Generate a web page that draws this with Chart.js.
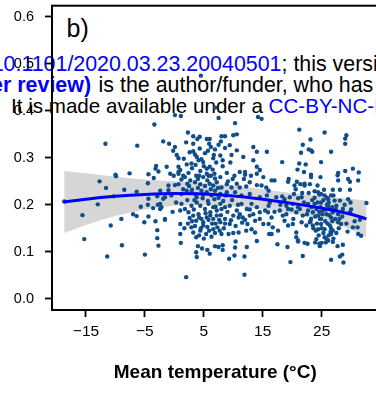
<!DOCTYPE html>
<html><head><meta charset="utf-8">
<script src="https://cdn.jsdelivr.net/npm/chart.js@4"></script>
<style>
html,body{margin:0;padding:0;background:#fff;}
#wrap{position:relative;width:376px;height:394px;overflow:hidden;font-family:"Liberation Sans",Arial,Helvetica,sans-serif;}
#c{position:absolute;left:0;top:0;z-index:2;}
.wm{position:absolute;white-space:nowrap;color:#000;z-index:1;}
.l12{font-size:21.4px;line-height:21.4px;}
.l3{font-size:20.6px;line-height:20.6px;}
.blue{color:#0000ff;}
.b{font-weight:bold;}
#tag{position:absolute;left:66.6px;top:15.5px;font-size:25px;line-height:25px;color:#000;z-index:1;white-space:nowrap;}
</style></head>
<body><div id="wrap">
<div class="wm l12" style="right:94.5px;top:53.6px">medRxiv preprint doi: <span class="blue">https://doi.org/10.1101/2020.03.23.20040501</span></div>
<div class="wm l12" style="left:281.5px;top:53.6px">; this version posted March 26, 2020. The copyright holder for this preprint</div>
<div class="wm l12 blue b" style="right:285px;top:75.4px">(which was not certified by peer review)</div>
<div class="wm l12" style="left:98.6px;top:75.4px">is the author/funder, who has granted medRxiv a license to display the preprint in perpetuity.</div>
<div class="wm l3" style="left:11px;top:96.1px">It is made available under a <span class="blue">CC-BY-NC-ND 4.0 International license</span>.</div>
<div id="tag">b)</div>
<canvas id="c" width="380" height="394"></canvas>
</div>
<script>
// Observed points: mean temperature (°C) and rate
const tempC = [
4.5,-3.4,0.1,1.1,7.5,10.3,14.2,14.8,21.2,6.9,-11.7,-6.3,-3.1,-3.2,-2.7,-7.6,-10.0,-4.4,
-1.9,-0.9,2.3,3.2,4.3,5.5,6.0,8.0,8.6,10.0,10.6,2.0,0.1,3.2,4.3,5.9,6.2,6.9,7.5,8.6,9.4,10.6,13.4,14.0,15.7,0.4,0.7,3.2,3.5,3.8,4.1,4.6,4.9,6.7,6.6,9.7,11.7,2.1,2.9,5.5,6.0,-1.3,1.0,11.1,12.0,14.5,
-0.2,0.7,0.7,1.2,-1.9,-1.0,0.1,-1.6,-4.4,13.4,14.0,19.3,
25.5,29.2,23.1,21.8,29.0,21.5,22.8,23.4,26.6,18.3,24.9,21.2,22.3,20.9,22.0,30.3,27.8,29.0,31.3,23.2,23.2,29.0,20.8,22.1,24.8,27.7,29.8,
-12.7,-9.9,-11.6,-8.5,-6.4,-3.5,-4.5,-18.7,-13.0,-10.3,-2.9,-5.7,-4.5,-3.6,-2.8,-2.4,-2.4,-15.6,-7.0,-6.4,-4.4,-9.0,-5.1,-3.2,-10.8,-2.9,-15.3,-2.9,-8.9,-2.7,-5.0,-11.4,
-0.7,-0.1,0.7,1.8,3.7,4.2,4.9,5.5,6.2,6.8,7.8,9.9,12.0,14.0,15.1,
-1.0,0.7,2.7,3.5,4.4,5.6,6.6,7.2,8.0,8.9,9.7,11.1,12.2,12.8,14.0,14.8,15.6,
-2.4,-1.6,-0.5,1.2,2.1,2.9,3.8,4.6,5.5,6.3,6.9,7.8,8.9,10.3,11.4,12.8,14.5,15.7,16.0,
-2.2,1.2,1.8,2.4,2.9,3.8,4.4,5.2,5.8,6.1,6.6,7.2,7.8,8.0,8.6,9.4,10.6,11.4,12.3,13.1,13.4,14.0,14.5,15.4,16.0,
-1.6,1.0,3.2,3.7,4.2,4.9,5.5,6.1,6.6,7.2,7.8,8.6,9.4,10.0,10.9,11.6,12.4,12.8,13.7,14.5,15.1,16.0,
1.0,2.9,3.2,3.7,4.4,4.9,5.4,5.9,6.6,7.3,8.0,9.2,10.0,10.9,12.2,13.1,13.7,16.1,
1.1,2.0,3.8,3.7,4.0,4.7,5.6,6.0,6.9,7.5,8.2,8.2,9.3,10.2,10.3,10.4,11.9,12.3,11.9,14.0,17.5,19.2,19.7,21.8,21.0,22.1,22.6,23.9,24.6,25.0,25.7,24.7,26.9,27.7,28.6,26.6,28.1,28.5,28.7,
16.5,17.0,19.4,20.4,21.4,22.1,23.0,23.2,24.3,27.8,29.5,31.2,29.8,28.1,26.9,25.4,23.8,24.4,
16.2,17.3,18.3,19.6,20.3,21.0,21.6,24.9,25.5,26.1,26.6,27.2,28.1,29.5,24.9,26.1,27.5,32.6,19.0,20.1,22.7,23.8,
15.9,16.5,17.9,18.4,19.3,20.7,21.3,21.8,22.7,23.5,24.1,24.4,25.2,25.8,26.4,26.9,27.8,28.6,29.8,23.2,24.9,26.6,31.5,
16.7,17.6,18.7,19.3,20.1,20.7,21.6,22.4,23.0,23.5,24.4,24.9,25.5,26.4,26.9,27.8,28.3,29.4,30.3,31.1,31.2,31.7,
16.5,20.7,21.0,24.1,25.5,26.1,26.6,
2.5,3.0,3.6,4.0,4.8,5.2,5.7,6.2,6.8,7.4,8.3,2.2,3.3,4.1,4.6,5.3,6.4,7.0,7.9,8.6,3.0,4.5,5.8,6.9,7.6,9.0,9.8,10.8,11.5,12.8,1.5,0.3,1.0,2.6,-0.3,
23.8,24.3,24.8,25.3,25.9,26.3,26.8,27.3,27.0,25.6,24.6,23.9,25.0,26.0,26.6,27.5,25.3,24.0,26.2,27.0,28.9,28.0,29.2,22.8,23.3,22.0,21.0,20.2,19.0,18.0,17.0,30.0,30.6,
1.5,2.4,3.0,3.6,4.4,5.0,5.8,6.5,7.1,7.8,8.2,8.9,9.5,10.2,2.6,5.2,7.9,1.6,4.0,6.9,9.1,10.6,11.8,13.0,2.2,3.9,5.7,8.2,
1.7,2.3,3.5,4.2,5.0,5.6,6.3,7.0,7.7,8.4,9.6,10.4,11.1,12.0,3.4,4.9,6.0,7.5,8.7,
22.5,23.1,23.6,24.2,24.7,25.1,25.7,26.2,26.8,27.4,27.9,24.5,25.8,26.5,23.4,24.6,25.9,28.5,29.9,19.9,18.7,21.7,20.6
];
const rate = [
.475,.371,.391,.389,.385,.374,.387,.383,.360,.407,.330,.326,.283,.277,.271,.267,.264,.265,
.335,.330,.354,.346,.345,.340,.340,.346,.346,.348,.350,.333,.323,.330,.320,.330,.323,.318,.328,.321,.327,.316,.323,.313,.313,.306,.299,.314,.307,.302,.295,.297,.291,.306,.299,.306,.302,.286,.288,.277,.281,.281,.274,.270,.270,.274,
.315,.281,.270,.254,.213,.231,.242,.168,.213,.295,.281,.249,
.354,.348,.339,.328,.330,.311,.318,.313,.313,.291,.291,.288,.286,.275,.270,.277,.268,.272,.269,.264,.316,.341,.249,.245,.259,.263,.249,
.250,.261,.236,.232,.228,.257,.246,.207,.201,.218,.218,.196,.200,.193,.200,.202,.191,.178,.180,.176,.175,.170,.163,.165,.156,.146,.127,.129,.114,.113,.094,.090,
.266,.262,.266,.259,.262,.262,.259,.266,.262,.266,.259,.255,.264,.266,.259,
.241,.244,.252,.248,.244,.252,.241,.248,.237,.244,.237,.237,.239,.248,.242,.241,.237,
.230,.216,.220,.223,.230,.227,.216,.230,.227,.220,.230,.223,.227,.227,.220,.223,.216,.220,.230,
.195,.202,.191,.184,.198,.205,.198,.191,.202,.184,.195,.188,.202,.191,.195,.198,.188,.202,.191,.202,.180,.195,.184,.188,.198,
.170,.159,.177,.166,.173,.163,.173,.177,.170,.177,.163,.170,.159,.177,.173,.173,.159,.177,.166,.170,.159,.159,
.138,.152,.141,.131,.145,.156,.138,.145,.148,.152,.138,.138,.140,.141,.145,.148,.141,.138,
.119,.046,.089,.099,.112,.107,.104,.096,.112,.110,.114,.104,.085,.092,.109,.122,.090,.110,.051,.123,.116,.110,.078,.091,.122,.119,.117,.120,.117,.119,.120,.112,.121,.112,.115,.083,.090,.094,.077,
.252,.252,.255,.241,.244,.241,.244,.259,.241,.252,.255,.252,.232,.232,.232,.232,.229,.227,
.205,.216,.218,.216,.223,.214,.216,.223,.220,.212,.220,.209,.209,.212,.205,.198,.198,.204,.198,.202,.202,.202,
.184,.173,.188,.177,.191,.184,.191,.177,.188,.184,.191,.177,.188,.180,.191,.184,.180,.191,.184,.170,.170,.173,.168,
.152,.145,.166,.156,.159,.141,.163,.156,.163,.156,.148,.159,.148,.156,.145,.163,.159,.143,.152,.152,.138,.134,
.138,.131,.124,.127,.131,.124,.138,
.240,.232,.222,.236,.214,.240,.208,.233,.212,.236,.208,.210,.190,.180,.170,.182,.160,.196,.178,.160,.165,.150,.168,.140,.168,.185,.210,.200,.162,.190,.233,.205,.188,.172,.185,
.215,.205,.195,.210,.200,.178,.195,.170,.220,.165,.185,.175,.150,.160,.150,.140,.140,.145,.135,.128,.200,.170,.160,.225,.195,.205,.195,.170,.180,.200,.185,.190,.165,
.262,.268,.278,.285,.272,.282,.262,.275,.290,.305,.282,.268,.290,.262,.312,.310,.335,.298,.255,.256,.250,.245,.255,.262,.245,.340,.315,.295,
.150,.160,.155,.135,.128,.153,.132,.160,.145,.150,.167,.155,.180,.168,.210,.222,.245,.215,.220,
.180,.165,.150,.160,.170,.180,.190,.205,.165,.190,.150,.135,.128,.142,.210,.222,.215,.175,.205,.190,.212,.225,.233
];
// Smoothed fit and its confidence band
const fitTemp  = [-18.7,-15,-10,-5,0,5,10,15,20,25,30,32.6];
const fitRate  = [0.206,0.212,0.218,0.222,0.224,0.223,0.219,0.212,0.203,0.193,0.180,0.170];
const fitLower = [0.140,0.157,0.176,0.190,0.198,0.200,0.197,0.191,0.181,0.168,0.147,0.131];
const fitUpper = [0.272,0.267,0.260,0.254,0.250,0.246,0.241,0.233,0.225,0.218,0.213,0.209];
// Axis ticks
const xTicks = [-15,-5,5,15,25];
const yTicks = [0,0.1,0.2,0.3,0.4,0.5,0.6];

const FONT = "'Liberation Sans', Arial, Helvetica, sans-serif";
const pts = tempC.map((t,i)=>({x:t,y:rate[i]}));
const toXY = ys => fitTemp.map((t,i)=>({x:t,y:ys[i]}));
const fmtX = v => v < 0 ? '\u2212' + Math.abs(v) : String(v);

const panelBorder = {
  id:'panelBorder',
  afterDatasetsDraw(chart){
    const {ctx, chartArea:a} = chart;
    ctx.save();
    ctx.strokeStyle = '#000';
    ctx.lineWidth = 2;
    ctx.strokeRect(a.left, a.top, a.right - a.left, a.bottom - a.top);
    ctx.restore();
  }
};

new Chart(document.getElementById('c'), {
  type:'scatter',
  data:{datasets:[
    {label:'fit', data:toXY(fitRate), showLine:true, borderColor:'#0000ff', borderWidth:3, pointRadius:0, fill:false, cubicInterpolationMode:'monotone', order:0},
    {label:'obs', data:pts, backgroundColor:'#104E8B', borderColor:'#104E8B', borderWidth:0, pointRadius:2.2, order:1},
    {label:'upper', data:toXY(fitUpper), showLine:true, borderWidth:0, borderColor:'rgba(0,0,0,0)', backgroundColor:'#d6d6d6', pointRadius:0, fill:'+1', cubicInterpolationMode:'monotone', order:2},
    {label:'lower', data:toXY(fitLower), showLine:true, borderWidth:0, borderColor:'rgba(0,0,0,0)', backgroundColor:'#d6d6d6', pointRadius:0, fill:false, cubicInterpolationMode:'monotone', order:3}
  ]},
  options:{
    responsive:false, animation:false, events:[],
    layout:{autoPadding:false, padding:{top:5.7, right:1.5, left:0, bottom:0}},
    plugins:{legend:{display:false}, tooltip:{enabled:false}},
    scales:{
      x:{type:'linear', min:-20.77, max:34.65, bounds:'data',
        afterBuildTicks:s=>{ s.ticks = xTicks.map(v=>({value:v})); },
        afterFit:s=>{ s.height = 84; s.paddingLeft = 0; s.paddingRight = 0; },
        grid:{drawOnChartArea:false, drawTicks:true, tickLength:7, tickWidth:1.8, tickColor:'#000'},
        border:{display:false},
        ticks:{font:{family:FONT, size:15.5}, color:'#000', padding:5.7, maxRotation:0, autoSkip:false, callback:v=>fmtX(v)},
        title:{display:true, text:'Mean temperature (°C)', font:{family:FONT, size:19, weight:'bold'}, color:'#000', padding:{top:0, bottom:9.6}}
      },
      y:{type:'linear', min:-0.024, max:0.624, bounds:'data',
        afterBuildTicks:s=>{ s.ticks = yTicks.map(v=>({value:v})); },
        afterFit:s=>{ s.width = 52; s.paddingTop = 0; s.paddingBottom = 0; },
        grid:{drawOnChartArea:false, drawTicks:true, tickLength:7, tickWidth:1.8, tickColor:'#000'},
        border:{display:false},
        ticks:{font:{family:FONT, size:14.5}, color:'#000', padding:11, autoSkip:false, callback:v=>Number(v).toFixed(1)}
      }
    }
  },
  plugins:[panelBorder]
});
</script>
</body></html>
